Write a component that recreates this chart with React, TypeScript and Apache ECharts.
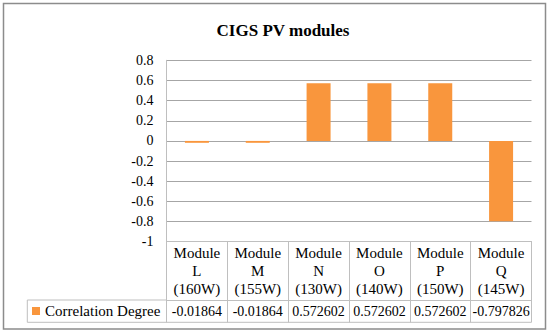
import React, { useEffect, useRef } from "react";
import * as echarts from "echarts";

const modules = ["L", "M", "N", "O", "P", "Q"];
const powers = [160, 155, 130, 140, 150, 145];
const correlation = [-0.01864, -0.01864, 0.572602, 0.572602, 0.572602, -0.797826];
const seriesName = "Correlation Degree";
const yMin = -1;
const yMax = 0.8;
const yStep = 0.2;

const FONT = "'Liberation Serif', 'Times New Roman', serif";
const BORDER = "#BFBFBF";

export default function App() {
  const ref = useRef<HTMLDivElement>(null);
  useEffect(() => {
    if (!ref.current) return;
    const chart = echarts.init(ref.current, null, { renderer: "svg" });
    const categories = modules.map((m, i) => `Module\n${m}\n(${powers[i]}W)`);
    const gridLeft = 166.5;
    const gridRight = 18.5;
    const gridTop = 60.3;
    const gridBottom = 91.3;
    const axisY = 333 - gridBottom;
    const rowY = axisY + 58.3;
    const tableBottom = 322.3;
    const tableLeft = 27.3;
    const tableRight = 550 - gridRight;
    chart.setOption({
      animation: false,
      backgroundColor: "#fff",
      textStyle: { fontFamily: FONT },
      title: {
        text: "CIGS PV modules",
        left: 278,
        textAlign: "center",
        top: 17,
        textStyle: { fontFamily: FONT, fontSize: 17, fontWeight: "bold", color: "#000" },
      },
      legend: {
        data: [seriesName],
        left: 32,
        top: 303,
        padding: 0,
        icon: "rect",
        itemWidth: 8,
        itemHeight: 8,
        itemGap: 5,
        textStyle: { fontFamily: FONT, fontSize: 15, color: "#000", lineHeight: 16 },
      },
      grid: { left: gridLeft, right: gridRight, top: gridTop, bottom: gridBottom },
      xAxis: [
        {
          type: "category",
          data: categories,
          position: "bottom",
          axisLine: { onZero: false, show: true, lineStyle: { color: BORDER, width: 1 } },
          axisTick: { show: true, length: tableBottom - axisY, interval: 0, lineStyle: { color: BORDER } },
          axisLabel: {
            interval: 0,
            margin: 2,
            fontFamily: FONT,
            fontSize: 15,
            lineHeight: 18,
            color: "#000",
            align: "center",
          },
          splitLine: { show: false },
        },
        {
          type: "category",
          data: categories,
          position: "bottom",
          offset: rowY - axisY,
          axisLine: { onZero: false, show: true, lineStyle: { color: BORDER, width: 1 } },
          axisTick: { show: false },
          axisLabel: {
            interval: 0,
            margin: 3,
            fontFamily: FONT,
            fontSize: 14,
            lineHeight: 16,
            color: "#000",
            formatter: (_v: string, idx: number) => String(correlation[idx]),
          },
        },
      ],
      yAxis: {
        type: "value",
        min: yMin,
        max: yMax,
        interval: yStep,
        axisLine: { show: true, lineStyle: { color: BORDER } },
        axisTick: { show: false },
        axisLabel: { fontFamily: FONT, fontSize: 14, color: "#000", margin: 13 },
        splitLine: { show: true, lineStyle: { color: "#A6A6A6", width: 1 } },
      },
      series: [
        {
          name: seriesName,
          type: "bar",
          data: correlation,
          barWidth: 24,
          itemStyle: { color: "#F9963D" },
          xAxisIndex: 0,
        },
      ],
      graphic: [
        {
          type: "rect",
          shape: { x: 3.5, y: 3.5, width: 542, height: 325.5 },
          style: { fill: "none", stroke: "#8C8C8C", lineWidth: 1.5 },
          silent: true,
        },
        {
          type: "line",
          shape: { x1: tableLeft, y1: rowY, x2: gridLeft, y2: rowY },
          style: { stroke: BORDER, lineWidth: 1 },
        },
        {
          type: "line",
          shape: { x1: tableLeft, y1: tableBottom, x2: tableRight, y2: tableBottom },
          style: { stroke: BORDER, lineWidth: 1 },
        },
        {
          type: "line",
          shape: { x1: tableLeft, y1: rowY, x2: tableLeft, y2: tableBottom },
          style: { stroke: BORDER, lineWidth: 1 },
        },
      ],
    });
    return () => chart.dispose();
  }, []);
  return (
    <div
      ref={ref}
      style={{ position: "fixed", left: 0, top: 0, width: 550, height: 333, background: "#fff" }}
    />
  );
}
